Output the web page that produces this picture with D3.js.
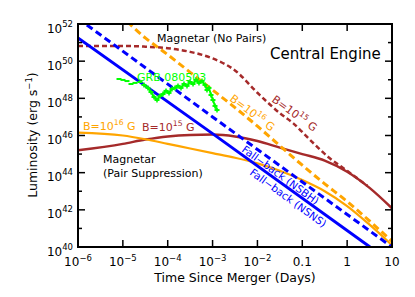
<!DOCTYPE html>
<html><head><meta charset="utf-8">
<script src="https://cdn.jsdelivr.net/npm/d3@7"></script>
<style>
html,body{margin:0;padding:0;background:#fff;}
svg text{font-family:"DejaVu Sans",sans-serif;}
</style></head>
<body>
<svg id="c" width="415" height="297"></svg>
<script>
// ---- data (log10 of time in days, log10 of luminosity in erg/s) ----
const nsnsLogT = [-6, -3, 0.51];
const nsnsLogL = [51.25, 46.1, 40.0];
const nsbhLogT = [-6, -3, 1];
const nsbhLogL = [52.3, 47.0, 40.0];
const b16NoPairLogT = [-6, -5.5, -5, -4.5, -4, -3.5, -3, -2.5, -2, -1.5, -1, -0.5, 0, 0.5, 1];
const b16NoPairLogL = [53.4, 53.0, 52.3, 51.25, 50.35, 49.4, 48.45, 47.5, 46.5, 45.45, 44.4, 43.4, 42.45, 41.4, 40.3];
const b15NoPairLogT = [-6, -5, -4.5, -4, -3.5, -3, -2.5, -2, -1.5, -1.2, -0.8, -0.4, 0, 0.45];
const b15NoPairLogL = [50.82, 50.82, 50.78, 50.7, 50.5, 50.15, 49.5, 48.3, 47.2, 46.65, 45.7, 44.8, 44.1, 43.3];
const b16PairLogT = [-6, -5, -4.5, -4, -3.5, -3, -2.5, -2, -1.5, -1, -0.5, 0, 0.5, 1];
const b16PairLogL = [46.15, 46.0, 45.8, 45.55, 45.3, 45.05, 44.8, 44.5, 44.1, 43.6, 43.0, 42.2, 41.2, 40.1];
const b15PairLogT = [-6, -5, -4.5, -4, -3.5, -3, -2.5, -2, -1.5, -1, -0.5, 0, 0.5, 1];
const b15PairLogL = [45.2, 45.55, 45.78, 45.95, 46.03, 46.05, 45.95, 45.7, 45.35, 45.0, 44.65, 44.05, 43.18, 42.08];
const grbLogT = [-5.086,-4.997,-4.908,-4.819,-4.729,-4.618,-4.529,-4.440,-4.373,-4.306,-4.239,-4.172,-4.105,-4.038,-3.971,-3.905,-3.838,-3.771,-3.704,-3.637,-3.570,-3.503,-3.436,-3.370,-3.303,-3.236,-3.169,-3.124,-3.080,-3.035,-2.991,-2.946,-2.901];
const grbLogL = [49.04,48.99,48.93,48.77,48.83,48.88,48.72,48.56,48.34,48.07,47.91,48.13,48.23,48.40,48.29,48.50,48.56,48.67,48.56,48.77,48.67,48.88,48.77,48.99,48.83,48.93,48.72,48.45,48.56,48.18,47.91,47.59,47.37];

const xTickVals = [1e-6, 1e-5, 1e-4, 1e-3, 1e-2, 0.1, 1, 10];
const xTickBase = ["10", "10", "10", "10", "10", "0.1", "1", "10"];
const xTickExp  = ["\u22126", "\u22125", "\u22124", "\u22123", "\u22122", "", "", ""];
const yTickVals = [1e40, 1e42, 1e44, 1e46, 1e48, 1e50, 1e52];
const yTickExp  = ["40", "42", "44", "46", "48", "50", "52"];
const yMinorVals = [1e41, 1e43, 1e45, 1e47, 1e49, 1e51];

// ---- layout ----
const L = 78, R = 392, T = 24, B = 247;
const svg = d3.select("#c");
const x = d3.scaleLog().domain([1e-6, 10]).range([L, R]);
const y = d3.scaleLog().domain([1e40, 1e52]).range([B, T]);

svg.append("defs").append("clipPath").attr("id", "clip")
  .append("rect").attr("x", L).attr("y", T).attr("width", R - L).attr("height", B - T);

const g = svg.append("g").attr("clip-path", "url(#clip)");
const line = d3.line().x(d => x(Math.pow(10, d[0]))).y(d => y(Math.pow(10, d[1]))).curve(d3.curveMonotoneX);
const lin = d3.line().x(d => x(Math.pow(10, d[0]))).y(d => y(Math.pow(10, d[1])));
const zip = (a, b) => a.map((v, i) => [v, b[i]]);

const ORANGE = "#ffa500", RED = "#a52a2a", BLUE = "#0000ff", GREEN = "#00ff00";

g.append("path").attr("d", line(zip(b15PairLogT, b15PairLogL))).attr("fill", "none").attr("stroke", RED).attr("stroke-width", 2.5);
g.append("path").attr("d", line(zip(b16PairLogT, b16PairLogL))).attr("fill", "none").attr("stroke", ORANGE).attr("stroke-width", 2.2);
g.append("path").attr("d", line(zip(b15NoPairLogT, b15NoPairLogL))).attr("fill", "none").attr("stroke", RED).attr("stroke-width", 2.5).attr("stroke-dasharray", "5,3");
g.append("path").attr("d", line(zip(b16NoPairLogT, b16NoPairLogL))).attr("fill", "none").attr("stroke", ORANGE).attr("stroke-width", 3).attr("stroke-dasharray", "7,4");
g.append("path").attr("d", lin(zip(nsbhLogT, nsbhLogL))).attr("fill", "none").attr("stroke", BLUE).attr("stroke-width", 3).attr("stroke-dasharray", "7,4");
g.append("path").attr("d", lin(zip(nsnsLogT, nsnsLogL))).attr("fill", "none").attr("stroke", BLUE).attr("stroke-width", 3);

// GRB data: early binned points as separate dashes, later a jagged connected trace
const grb = zip(grbLogT, grbLogL);
g.append("path").attr("d", lin(grb.slice(6))).attr("fill", "none").attr("stroke", GREEN).attr("stroke-width", 2);
g.selectAll(".eb").data(grb).enter().append("line")
  .attr("x1", d => x(Math.pow(10, d[0])) - 2.5).attr("x2", d => x(Math.pow(10, d[0])) + 2.5)
  .attr("y1", d => y(Math.pow(10, d[1]))).attr("y2", d => y(Math.pow(10, d[1])))
  .attr("stroke", GREEN).attr("stroke-width", 2);
g.selectAll(".ev").data(grb.slice(6)).enter().append("line")
  .attr("x1", d => x(Math.pow(10, d[0]))).attr("x2", d => x(Math.pow(10, d[0])))
  .attr("y1", d => y(Math.pow(10, d[1])) - 2.5).attr("y2", d => y(Math.pow(10, d[1])) + 2.5)
  .attr("stroke", GREEN).attr("stroke-width", 1.5);

// ---- axes frame ----
svg.append("rect").attr("x", L).attr("y", T).attr("width", R - L).attr("height", B - T)
  .attr("fill", "none").attr("stroke", "#000").attr("stroke-width", 2);

const ax = svg.append("g").attr("stroke", "#000").attr("stroke-width", 1.5);
xTickVals.forEach(v => {
  ax.append("line").attr("x1", x(v)).attr("x2", x(v)).attr("y1", B).attr("y2", B - 7);
  ax.append("line").attr("x1", x(v)).attr("x2", x(v)).attr("y1", T).attr("y2", T + 7);
});
yTickVals.forEach(v => {
  ax.append("line").attr("x1", L).attr("x2", L + 7).attr("y1", y(v)).attr("y2", y(v));
  ax.append("line").attr("x1", R).attr("x2", R - 7).attr("y1", y(v)).attr("y2", y(v));
});
yMinorVals.forEach(v => {
  ax.append("line").attr("x1", L).attr("x2", L + 4).attr("y1", y(v)).attr("y2", y(v));
  ax.append("line").attr("x1", R).attr("x2", R - 4).attr("y1", y(v)).attr("y2", y(v));
});

// tick labels
xTickVals.forEach((v, i) => {
  const t = svg.append("text").attr("x", x(v)).attr("y", 266).attr("text-anchor", "middle")
    .attr("font-size", 12).attr("fill", "#000");
  t.append("tspan").text(xTickBase[i]);
  if (xTickExp[i]) t.append("tspan").attr("dy", -5).attr("font-size", 8.5).text(xTickExp[i]);
});
yTickVals.forEach((v, i) => {
  const t = svg.append("text").attr("x", 73).attr("y", y(v) + 8.5).attr("text-anchor", "end")
    .attr("font-size", 12).attr("fill", "#000");
  t.append("tspan").text("10");
  t.append("tspan").attr("dy", -6).attr("font-size", 8.5).text(yTickExp[i]);
});

// axis titles
svg.append("text").attr("x", 235).attr("y", 282).attr("text-anchor", "middle")
  .attr("font-size", 12.5).text("Time Since Merger (Days)");
const yl = svg.append("text").attr("transform", "translate(37,135) rotate(-90)")
  .attr("text-anchor", "middle").attr("font-size", 12.5);
yl.append("tspan").text("Luminosity (erg s");
yl.append("tspan").attr("dy", -5).attr("font-size", 8.5).text("\u22121");
yl.append("tspan").attr("dy", 5).text(")");

// annotations
function ann(txt, px, py, col, size, rot, sup, rest) {
  const t = svg.append("text").attr("transform", `translate(${px},${py}) rotate(${rot || 0})`)
    .attr("font-size", size).attr("fill", col);
  t.append("tspan").text(txt);
  if (sup) {
    t.append("tspan").attr("dy", -5).attr("font-size", size * 0.7).text(sup);
    t.append("tspan").attr("dy", 5).text(rest);
  }
  return t;
}
ann("Magnetar (No Pairs)", 157, 42, "#000", 11);
ann("Central Engine", 270, 59, "#000", 15);
ann("GRB 080503", 137, 81, GREEN, 11);
ann("B=10", 83, 130, ORANGE, 11, 0, "16", " G");
ann("B=10", 142, 131, RED, 11, 0, "15", " G");
ann("B=10", 229, 100, ORANGE, 11, 37, "16", " G");
ann("B=10", 271, 101, RED, 11, 36, "15", " G");
ann("Magnetar", 103, 163, "#000", 11);
ann("(Pair Suppression)", 103, 177, "#000", 11);
ann("Fall\u2212back (NSBH)", 241, 151, BLUE, 10.5, 36);
ann("Fall\u2212back (NSNS)", 249, 174, BLUE, 10.5, 36);
</script>
</body></html>
